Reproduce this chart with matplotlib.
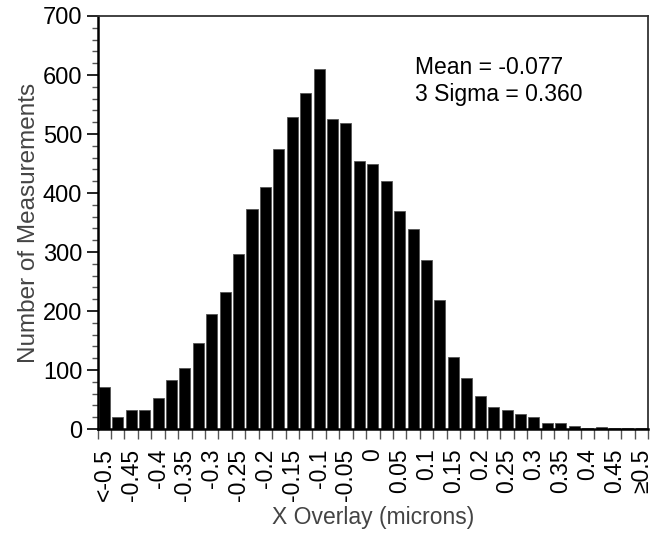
import numpy as np
import matplotlib.pyplot as plt

plt.rcParams['font.family'] = ['Liberation Sans', 'DejaVu Sans']

# Bin centres (microns), first and last bins are open-ended
centers = np.round(np.arange(-0.5, 0.5001, 0.025), 3)
counts = [71, 20, 32, 32, 53, 83, 104, 146, 195, 232,
          296, 373, 410, 475, 528, 570, 611, 525, 518, 454,
          449, 421, 370, 339, 287, 219, 122, 86, 56, 38,
          32, 25, 21, 10, 10, 5, 2, 4, 1, 1.5, 1]
label_pos = centers[::2]
labels = ['<-0.5', '-0.45', '-0.4', '-0.35', '-0.3', '-0.25', '-0.2', '-0.15',
          '-0.1', '-0.05', '0', '0.05', '0.1', '0.15', '0.2', '0.25', '0.3',
          '0.35', '0.4', '0.45', '\u22650.5']
stats_text = 'Mean = -0.077\n3 Sigma = 0.360'

fig = plt.figure(figsize=(6.64, 5.33), dpi=100)
ax = fig.add_axes([0.147, 0.195, 0.829, 0.775])

width = 0.025
ax.bar(centers, counts, width=width * 0.82, color='black', edgecolor='#555555', linewidth=0.6)

ax.set_xlim(-0.5 - width / 2, 0.5 + width / 2)
ax.set_ylim(0, 700)

# labels at bin centres, tick marks on bin edges
ax.set_xticks(label_pos)
ax.set_xticklabels(labels, rotation=90, fontsize=16.5)
ax.tick_params(axis='x', which='major', length=0, pad=14)
edges = np.arange(-0.5 - width / 2, 0.5 + width, width)
ax.set_xticks(edges, minor=True)
ax.tick_params(axis='x', which='minor', length=7, width=1, color='#555555', direction='out')

ax.set_yticks(np.arange(0, 701, 100))
ax.set_yticks(np.arange(0, 701, 20), minor=True)
ax.tick_params(axis='y', which='major', length=8, width=1.2, labelsize=17, pad=3)
ax.tick_params(axis='y', which='minor', length=4, width=1, color='#555555')

for s in ['left', 'bottom']:
    ax.spines[s].set_linewidth(1.8)
for s in ['top', 'right']:
    ax.spines[s].set_linewidth(1.3)
    ax.spines[s].set_color('#333333')

ax.set_xlabel('X Overlay (microns)', fontsize=16.5, color='#444444', labelpad=3)
ax.set_ylabel('Number of Measurements', fontsize=17.5, color='#444444', labelpad=2)

ax.text(0.577, 0.843, stats_text, transform=ax.transAxes, fontsize=16.5,
        va='center', ha='left', linespacing=1.23)

fig.savefig('out.png', dpi=100)
